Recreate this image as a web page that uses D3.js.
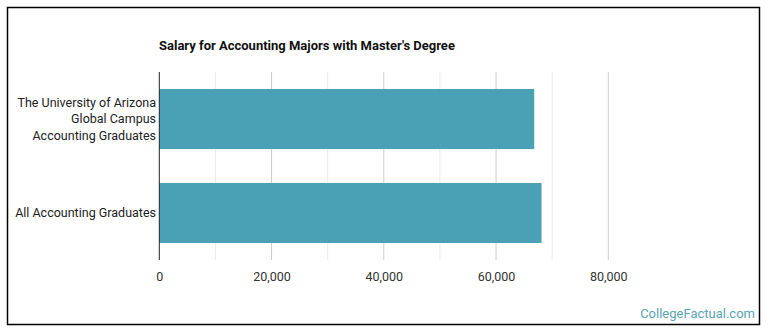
<!DOCTYPE html>
<html>
<head>
<meta charset="utf-8">
<script src="https://cdn.jsdelivr.net/npm/d3@7"></script>
<style>
  html, body { margin: 0; padding: 0; background: #fff; }
  svg { display: block; }
  text { font-family: Roboto, "Noto Sans", sans-serif; }
</style>
</head>
<body>
<svg id="chart" width="770" height="335"></svg>
<script>
const title = "Salary for Accounting Majors with Master's Degree";
const categories = [
  ["The University of Arizona", "Global Campus", "Accounting Graduates"],
  ["All Accounting Graduates"]
];
const values = [66800, 68100];
const majorTicks = [0, 20000, 40000, 60000, 80000];
const minorTicks = [10000, 30000, 50000, 70000];
const watermark = "CollegeFactual.com";

const svg = d3.select("#chart");

// outer border
svg.append("rect")
  .attr("x", 7.5).attr("y", 7.5)
  .attr("width", 752).attr("height", 317)
  .attr("fill", "none").attr("stroke", "#000").attr("stroke-width", 1.5);

const x = d3.scaleLinear().domain([0, 80000]).range([159.3, 608.3]);
const y = d3.scaleBand().domain(d3.range(categories.length))
  .range([72, 260]).paddingInner(0.362).paddingOuter(0.181);

// minor gridlines
svg.append("g").selectAll("line").data(minorTicks).join("line")
  .attr("x1", d => x(d)).attr("x2", d => x(d))
  .attr("y1", 72).attr("y2", 260)
  .attr("stroke", "#ebebeb").attr("stroke-width", 1);

// major gridlines
svg.append("g").selectAll("line").data(majorTicks.filter(d => d > 0)).join("line")
  .attr("x1", d => x(d)).attr("x2", d => x(d))
  .attr("y1", 72).attr("y2", 260)
  .attr("stroke", "#cccccc").attr("stroke-width", 1);

// bars
svg.append("g").selectAll("rect").data(values).join("rect")
  .attr("x", x(0))
  .attr("y", (d, i) => y(i))
  .attr("width", d => x(d) - x(0))
  .attr("height", y.bandwidth())
  .attr("fill", "#4aa0b4");

// y axis line
svg.append("line")
  .attr("x1", x(0)).attr("x2", x(0))
  .attr("y1", 72).attr("y2", 260)
  .attr("stroke", "#222").attr("stroke-width", 1);

// x axis tick labels
const xAxis = d3.axisBottom(x).tickValues(majorTicks)
  .tickFormat(d3.format(",")).tickSize(0).tickPadding(0);
const gx = svg.append("g").attr("transform", "translate(0,272)").call(xAxis);
gx.select(".domain").remove();
gx.selectAll("text")
  .attr("dy", "0.71em")
  .attr("fill", "#333")
  .style("font-size", "12.5px")
  .style("font-family", "Roboto, sans-serif");

// category labels
const lineH = 16.7;
const lab = svg.append("g");
categories.forEach((lines, i) => {
  const cy = y(i) + y.bandwidth() / 2;
  const t = lab.append("text")
    .attr("text-anchor", "end")
    .attr("fill", "#222")
    .style("font-size", "12.5px");
  lines.forEach((ln, j) => {
    t.append("tspan")
      .attr("x", 156)
      .attr("y", cy + (j - (lines.length - 1) / 2) * lineH)
      .attr("dy", "0.35em")
      .text(ln);
  });
});

// title
svg.append("text")
  .attr("x", 159).attr("y", 45.5).attr("dy", "0.35em")
  .attr("fill", "#111")
  .style("font-size", "13px").style("font-weight", "700")
  .text(title);

// watermark
svg.append("text")
  .attr("x", 755).attr("y", 313).attr("dy", "0.35em")
  .attr("text-anchor", "end")
  .attr("fill", "#5aa3b3")
  .style("font-size", "13px")
  .text(watermark);
</script>
</body>
</html>
